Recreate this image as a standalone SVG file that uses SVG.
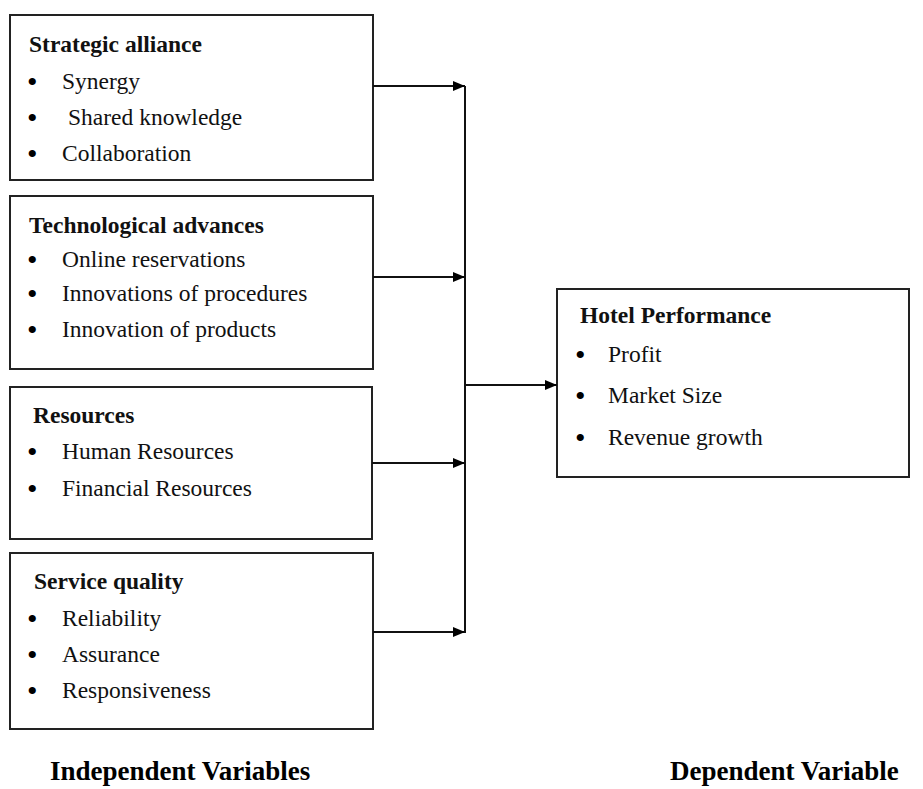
<svg xmlns="http://www.w3.org/2000/svg" width="923" height="789" viewBox="0 0 923 789">
<style>
.box{fill:#fff;stroke:#222;stroke-width:2}
.t{font-family:"Liberation Serif","Times New Roman",serif;font-size:23.5px;fill:#111}
.b{font-family:"Liberation Serif","Times New Roman",serif;font-size:30px;fill:#000}
.h{font-family:"Liberation Serif","Times New Roman",serif;font-size:23.5px;font-weight:bold;fill:#111}
.f{font-family:"Liberation Serif","Times New Roman",serif;font-size:27px;font-weight:bold;fill:#000}
.c{stroke:#111;stroke-width:2;fill:none}
</style>
<defs>
<marker id="ah" markerWidth="12" markerHeight="10" refX="12" refY="5" orient="auto" markerUnits="userSpaceOnUse">
<path d="M0,0 L12,5 L0,10 Z" fill="#000"/>
</marker>
</defs>
<rect width="923" height="789" fill="#fff"/>
<g id="strategic-alliance">
<rect class="box" x="10" y="15" width="363" height="165"/>
<text class="h" x="29" y="52">Strategic alliance</text>
<text class="b" x="27" y="92">•</text><text class="t" x="62" y="89">Synergy</text>
<text class="b" x="27" y="128">•</text><text class="t" x="68" y="125">Shared knowledge</text>
<text class="b" x="27" y="164">•</text><text class="t" x="62" y="161">Collaboration</text>
</g>
<g id="technological-advances">
<rect class="box" x="10" y="196" width="363" height="173"/>
<text class="h" x="29" y="233">Technological advances</text>
<text class="b" x="27" y="270">•</text><text class="t" x="62" y="267">Online reservations</text>
<text class="b" x="27" y="304">•</text><text class="t" x="62" y="301">Innovations of procedures</text>
<text class="b" x="27" y="340">•</text><text class="t" x="62" y="337">Innovation of products</text>
</g>
<g id="resources">
<rect class="box" x="10" y="387" width="362" height="152"/>
<text class="h" x="33" y="423">Resources</text>
<text class="b" x="27" y="462">•</text><text class="t" x="62" y="459">Human Resources</text>
<text class="b" x="27" y="499">•</text><text class="t" x="62" y="496">Financial Resources</text>
</g>
<g id="service-quality">
<rect class="box" x="10" y="553" width="363" height="176"/>
<text class="h" x="34" y="589">Service quality</text>
<text class="b" x="27" y="629">•</text><text class="t" x="62" y="626">Reliability</text>
<text class="b" x="27" y="665">•</text><text class="t" x="62" y="662">Assurance</text>
<text class="b" x="27" y="701">•</text><text class="t" x="62" y="698">Responsiveness</text>
</g>
<g id="hotel-performance">
<rect class="box" x="557" y="289" width="352" height="188"/>
<text class="h" x="580" y="323">Hotel Performance</text>
<text class="b" x="575" y="365">•</text><text class="t" x="608" y="362">Profit</text>
<text class="b" x="575" y="406">•</text><text class="t" x="608" y="403">Market Size</text>
<text class="b" x="575" y="448">•</text><text class="t" x="608" y="445">Revenue growth</text>
</g>
<g id="connectors">
<line class="c" x1="465" y1="86" x2="465" y2="633"/>
<line class="c" x1="373" y1="86" x2="465" y2="86" marker-end="url(#ah)"/>
<line class="c" x1="373" y1="277" x2="465" y2="277" marker-end="url(#ah)"/>
<line class="c" x1="372" y1="463" x2="465" y2="463" marker-end="url(#ah)"/>
<line class="c" x1="373" y1="632" x2="465" y2="632" marker-end="url(#ah)"/>
<line class="c" x1="465" y1="385" x2="557" y2="385" marker-end="url(#ah)"/>
</g>
<g id="labels">
<text class="f" x="50" y="780">Independent Variables</text>
<text class="f" x="670" y="780">Dependent Variable</text>
</g>
</svg>
